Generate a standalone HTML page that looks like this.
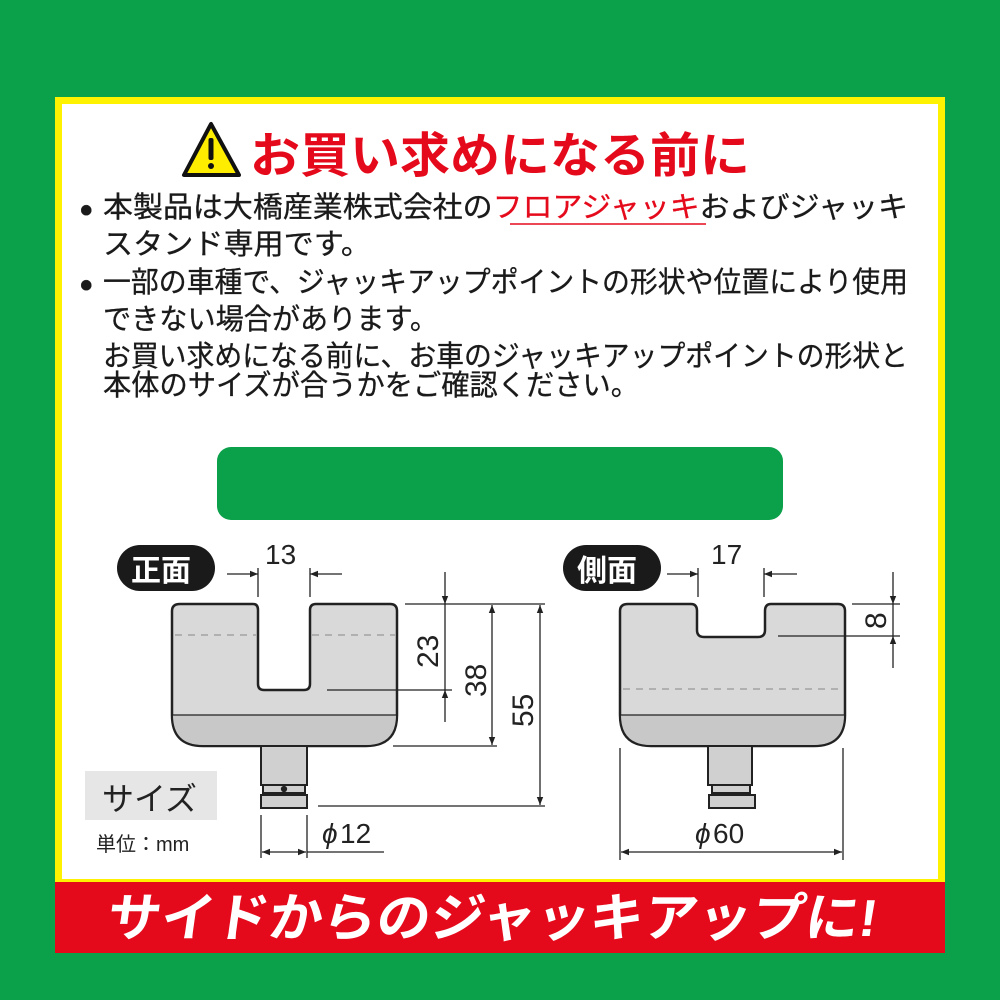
<!DOCTYPE html>
<html><head><meta charset="utf-8"><style>
html,body{margin:0;padding:0;background:#0ba04a;}
svg{display:block}
text{font-family:"Liberation Sans","Noto Sans CJK JP",sans-serif;}
</style></head><body>
<svg width="1000" height="1000" viewBox="0 0 1000 1000" xmlns="http://www.w3.org/2000/svg">
<rect x="0" y="0" width="1000" height="1000" fill="#0ba04a"/>
<rect x="55" y="97" width="890" height="790" fill="#fff200"/>
<rect x="62" y="104" width="876" height="775" fill="#ffffff"/>
<rect x="55" y="882" width="890" height="71" fill="#e50a1b"/>
<text transform="translate(105,936) skewX(-8)" x="0" y="0" font-size="52" font-weight="bold" fill="#fff" textLength="770" lengthAdjust="spacingAndGlyphs">サイドからのジャッキアップに!</text>

<!-- warning -->
<polygon points="211,124 184,175 239,175" fill="#ffed00" stroke="#111" stroke-width="4" stroke-linejoin="round"/>
<rect x="208.5" y="138" width="5" height="22" rx="2" fill="#111"/>
<circle cx="211" cy="166" r="3" fill="#111"/>
<text x="250" y="172" font-size="48" font-weight="bold" fill="#e50a1b" textLength="500" lengthAdjust="spacingAndGlyphs">お買い求めになる前に</text>

<g font-size="29" fill="#1a1a1a" stroke="#1a1a1a" stroke-width="0.3">
<text x="79" y="217" font-size="24">●</text>
<text x="103" y="217" textLength="805" lengthAdjust="spacingAndGlyphs">本製品は大橋産業株式会社の<tspan fill="#e50a1b" stroke="#e50a1b">フロアジャッキ</tspan>およびジャッキ</text>
<text x="103" y="254" textLength="268" lengthAdjust="spacingAndGlyphs">スタンド専用です。</text>
<text x="79" y="292" font-size="24">●</text>
<text x="103" y="292" textLength="805" lengthAdjust="spacingAndGlyphs">一部の車種で、ジャッキアップポイントの形状や位置により使用</text>
<text x="103" y="329" textLength="335" lengthAdjust="spacingAndGlyphs">できない場合があります。</text>
<text x="103" y="366" textLength="805" lengthAdjust="spacingAndGlyphs">お買い求めになる前に、お車のジャッキアップポイントの形状と</text>
<text x="103" y="395" textLength="536" lengthAdjust="spacingAndGlyphs">本体のサイズが合うかをご確認ください。</text>
</g>
<line x1="510" y1="224" x2="706" y2="224" stroke="#e50a1b" stroke-width="1.5"/>

<rect x="217" y="447" width="566" height="73" rx="14" fill="#0ba04a"/>

<!-- labels -->
<rect x="117" y="545" width="98" height="46" rx="23" fill="#1a1a1a"/>
<text x="131" y="581" font-size="30" font-weight="bold" fill="#fff">正面</text>
<rect x="563" y="545" width="98" height="46" rx="23" fill="#1a1a1a"/>
<text x="577" y="581" font-size="30" font-weight="bold" fill="#fff">側面</text>
<rect x="85" y="771" width="132" height="49" fill="#e6e6e6"/>
<text x="102" y="810" font-size="32" fill="#222">サイズ</text>
<text x="96" y="851" font-size="20" fill="#222">単位：mm</text>

<defs>
<marker id="a" viewBox="0 0 10 10" refX="10" refY="5" markerWidth="10" markerHeight="8" markerUnits="userSpaceOnUse" orient="auto"><path d="M0,1 L10,5 L0,9 z" fill="#222"/></marker>
</defs>

<g stroke="#222" stroke-width="1.3" fill="none">
<path d="M180,604 H253 Q258,604 258,610 V684 Q258,690 264,690 H304 Q310,690 310,684 V610 Q310,604 316,604 H390 Q397,604 397,611 V715 Q397,746 366,746 H203 Q172,746 172,715 V611 Q172,604 180,604 Z" fill="#d9d9d9" stroke-width="2.5"/>
<path d="M173,715 Q173,745 203,745 H366 Q396,745 396,715 Z" fill="#c8c8c8" stroke="none"/>
<line x1="173" y1="715" x2="396" y2="715"/>
<line x1="175" y1="635" x2="256" y2="635" stroke="#999" stroke-dasharray="7,6"/>
<line x1="312" y1="635" x2="395" y2="635" stroke="#999" stroke-dasharray="7,6"/>
<rect x="261" y="746" width="46" height="39" fill="#d0d0d0" stroke-width="2"/>
<rect x="263" y="785" width="42" height="8" fill="#d0d0d0" stroke-width="2"/>
<rect x="261" y="795" width="46" height="13" fill="#d0d0d0" stroke-width="2"/>
<circle cx="284" cy="789" r="2.5" fill="#222"/>
<line x1="258" y1="568" x2="258" y2="597"/><line x1="310" y1="568" x2="310" y2="597"/>
<line x1="227" y1="574" x2="258" y2="574" marker-end="url(#a)"/>
<line x1="342" y1="574" x2="310" y2="574" marker-end="url(#a)"/>
<line x1="405" y1="604" x2="545" y2="604"/>
<line x1="327" y1="690" x2="452" y2="690"/>
<line x1="393" y1="746" x2="497" y2="746"/>
<line x1="318" y1="806" x2="545" y2="806"/>
<line x1="445" y1="572" x2="445" y2="604" marker-end="url(#a)"/>
<line x1="445" y1="722" x2="445" y2="690" marker-end="url(#a)"/>
<line x1="445" y1="604" x2="445" y2="690"/>
<line x1="492" y1="647" x2="492" y2="605" marker-end="url(#a)"/>
<line x1="492" y1="647" x2="492" y2="745" marker-end="url(#a)"/>
<line x1="540" y1="700" x2="540" y2="605" marker-end="url(#a)"/>
<line x1="540" y1="700" x2="540" y2="805" marker-end="url(#a)"/>
<line x1="261" y1="815" x2="261" y2="858"/><line x1="307" y1="815" x2="307" y2="858"/>
<line x1="284" y1="852" x2="262" y2="852" marker-end="url(#a)"/>
<line x1="284" y1="852" x2="306" y2="852" marker-end="url(#a)"/>
<line x1="307" y1="852" x2="384" y2="852"/>

<path d="M628,604 H691 Q697,604 697,611 V630 Q697,637 704,637 H758 Q765,637 765,630 V611 Q765,604 771,604 H838 Q845,604 845,611 V715 Q845,746 814,746 H651 Q620,746 620,715 V611 Q620,604 628,604 Z" fill="#d9d9d9" stroke-width="2.5"/>
<path d="M621,715 Q621,745 651,745 H814 Q844,745 844,715 Z" fill="#c8c8c8" stroke="none"/>
<line x1="621" y1="715" x2="844" y2="715"/>
<line x1="623" y1="689" x2="843" y2="689" stroke="#999" stroke-dasharray="7,6"/>
<rect x="708" y="746" width="44" height="39" fill="#d0d0d0" stroke-width="2"/>
<rect x="712" y="785" width="38" height="8" fill="#d0d0d0" stroke-width="2"/>
<rect x="709" y="795" width="46" height="13" fill="#d0d0d0" stroke-width="2"/>
<line x1="698" y1="568" x2="698" y2="597"/><line x1="764" y1="568" x2="764" y2="597"/>
<line x1="667" y1="574" x2="698" y2="574" marker-end="url(#a)"/>
<line x1="797" y1="574" x2="764" y2="574" marker-end="url(#a)"/>
<line x1="852" y1="604" x2="900" y2="604"/>
<line x1="778" y1="636" x2="900" y2="636"/>
<line x1="893" y1="572" x2="893" y2="604" marker-end="url(#a)"/>
<line x1="893" y1="668" x2="893" y2="636" marker-end="url(#a)"/>
<line x1="893" y1="604" x2="893" y2="636"/>
<line x1="620" y1="748" x2="620" y2="860"/><line x1="843" y1="748" x2="843" y2="860"/>
<line x1="730" y1="852" x2="621" y2="852" marker-end="url(#a)"/>
<line x1="730" y1="852" x2="842" y2="852" marker-end="url(#a)"/>
</g>

<g font-size="28" fill="#222">
<text x="265" y="564">13</text>
<text x="711" y="564">17</text>
<text x="322" y="843" font-style="italic">ϕ</text><text x="340" y="843">12</text>
<text x="695" y="843" font-style="italic">ϕ</text><text x="713" y="843">60</text>
<text transform="translate(438,668) rotate(-90)" font-size="30">23</text>
<text transform="translate(486,697) rotate(-90)" font-size="30">38</text>
<text transform="translate(533,727) rotate(-90)" font-size="30">55</text>
<text transform="translate(886,629) rotate(-90)" font-size="30">8</text>
</g>
</svg>
</body></html>
